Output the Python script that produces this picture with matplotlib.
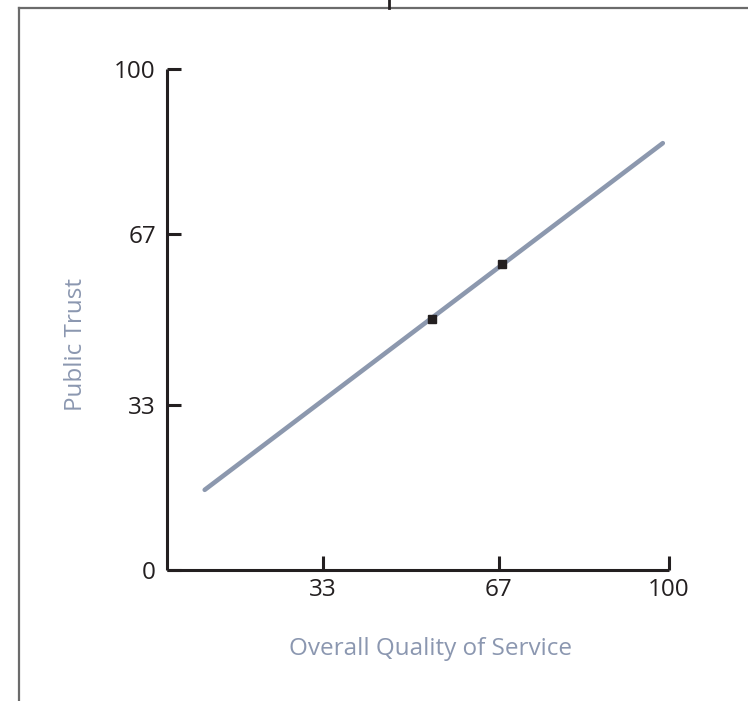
import matplotlib
matplotlib.use("Agg")
import matplotlib.pyplot as plt
from matplotlib.lines import Line2D

plt.rcParams['font.family'] = ['Open Sans', 'DejaVu Sans']

# data
trend_x = [10.1, 98.8]
trend_y = [16.0, 85.2]
points_x = [54.1, 67.7]
points_y = [50.1, 61.1]
x_ticks = [33, 67, 100]
y_ticks = [0, 33, 67, 100]
x_label = "Overall Quality of Service"
y_label = "Public Trust"

W, H = 748, 701
fig = plt.figure(figsize=(W / 100, H / 100), dpi=100)
ax = fig.add_axes([167 / W, 1 - 570 / H, (669 - 167) / W, (570 - 69) / H])

ink = '#231f20'
slate = '#8b97b0'
fs = 17.5

ax.plot(trend_x, trend_y, color='#8c98ae', lw=3.3, solid_capstyle='round', zorder=2)
ax.plot(points_x, points_y, ls='none', marker='s', ms=6, color=ink, zorder=3)

ax.set_xlim(2.8, 100)
ax.set_ylim(0, 100)
ax.set_xticks(x_ticks)
ax.set_yticks(y_ticks)
ax.set_xticklabels([str(v) for v in x_ticks])
ax.set_yticklabels([str(v) for v in y_ticks])

for side in ('top', 'right'):
    ax.spines[side].set_visible(False)
for side in ('left', 'bottom'):
    ax.spines[side].set_color(ink)
    ax.spines[side].set_linewidth(2.2)
    ax.spines[side].set_capstyle('butt')

ax.tick_params(direction='in', length=10, width=2.2, color=ink,
               labelsize=fs, labelcolor=ink, pad=8)
ax.tick_params(axis='x', pad=6)

ax.set_xlabel(x_label, color=slate, fontsize=fs)
ax.set_ylabel(y_label, color=slate, fontsize=fs)
ax.xaxis.set_label_coords(0.524, -0.134)
ax.yaxis.set_label_coords(-0.157, 0.45)

# outer frame fragments
frame = '#6b6b6b'
fig.add_artist(Line2D([19 / W, 19 / W], [0, 1 - 8 / H], transform=fig.transFigure, color=frame, lw=1.6))
fig.add_artist(Line2D([19 / W, 1], [1 - 8 / H, 1 - 8 / H], transform=fig.transFigure, color=frame, lw=1.6))
fig.add_artist(Line2D([389 / W, 389 / W], [1 - 8 / H, 1], transform=fig.transFigure, color=ink, lw=2))

fig.savefig('out.png', dpi=100)
